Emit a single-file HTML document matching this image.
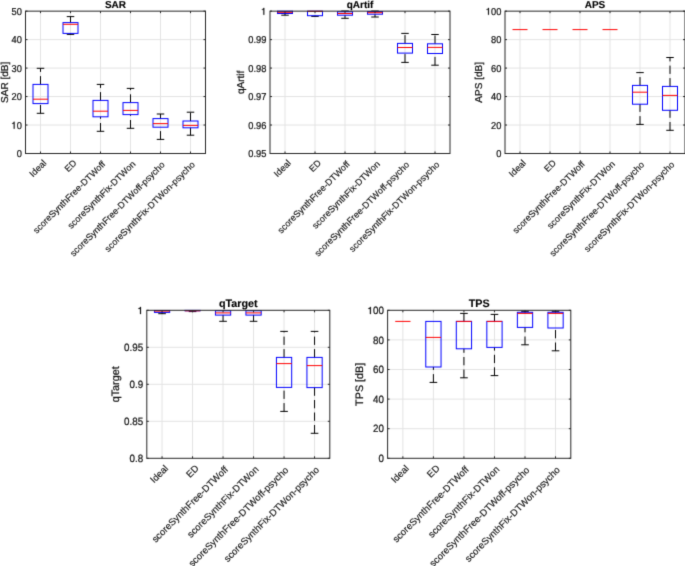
<!DOCTYPE html>
<html><head><meta charset="utf-8"><title>Boxplots</title>
<style>
html,body{margin:0;padding:0;background:#fff;}
body{width:685px;height:566px;overflow:hidden;}
svg{display:block;font-family:"Liberation Sans", sans-serif;will-change:transform;text-rendering:geometricPrecision;}
</style></head>
<body>
<svg width="685" height="566" viewBox="0 0 685 566">
<defs><filter id="b" x="0" y="0" width="100%" height="100%" filterUnits="userSpaceOnUse" color-interpolation-filters="sRGB"><feConvolveMatrix order="3" kernelMatrix="0.0144 0.0912 0.0144 0.0912 0.5776 0.0912 0.0144 0.0912 0.0144" divisor="1" edgeMode="duplicate" preserveAlpha="true"/></filter></defs>
<rect x="0" y="0" width="685" height="566" fill="#ffffff"/>
<g filter="url(#b)">
<rect x="0" y="0" width="685" height="566" fill="#ffffff"/>
<line x1="40.50" y1="11.15" x2="40.50" y2="153.50" stroke="#e3e3e3" stroke-width="1.0"/>
<line x1="70.50" y1="11.15" x2="70.50" y2="153.50" stroke="#e3e3e3" stroke-width="1.0"/>
<line x1="100.50" y1="11.15" x2="100.50" y2="153.50" stroke="#e3e3e3" stroke-width="1.0"/>
<line x1="130.50" y1="11.15" x2="130.50" y2="153.50" stroke="#e3e3e3" stroke-width="1.0"/>
<line x1="160.50" y1="11.15" x2="160.50" y2="153.50" stroke="#e3e3e3" stroke-width="1.0"/>
<line x1="190.50" y1="11.15" x2="190.50" y2="153.50" stroke="#e3e3e3" stroke-width="1.0"/>
<line x1="25.50" y1="125.03" x2="205.50" y2="125.03" stroke="#e3e3e3" stroke-width="1.0"/>
<line x1="25.50" y1="96.56" x2="205.50" y2="96.56" stroke="#e3e3e3" stroke-width="1.0"/>
<line x1="25.50" y1="68.09" x2="205.50" y2="68.09" stroke="#e3e3e3" stroke-width="1.0"/>
<line x1="25.50" y1="39.62" x2="205.50" y2="39.62" stroke="#e3e3e3" stroke-width="1.0"/>
<line x1="40.50" y1="84.40" x2="40.50" y2="68.30" stroke="#000000" stroke-width="1.0" stroke-dasharray="8.3,4.2"/>
<line x1="40.50" y1="113.30" x2="40.50" y2="103.60" stroke="#000000" stroke-width="1.0" stroke-dasharray="8.3,4.2"/>
<line x1="36.75" y1="68.30" x2="44.25" y2="68.30" stroke="#000000" stroke-width="1.0"/>
<line x1="36.75" y1="113.30" x2="44.25" y2="113.30" stroke="#000000" stroke-width="1.0"/>
<rect x="33.00" y="84.40" width="15.00" height="19.20" fill="none" stroke="#0000ff" stroke-width="1.0"/>
<line x1="33.00" y1="99.20" x2="48.00" y2="99.20" stroke="#ff0000" stroke-width="1.0"/>
<line x1="70.50" y1="22.60" x2="70.50" y2="16.60" stroke="#000000" stroke-width="1.0" stroke-dasharray="8.3,4.2"/>
<line x1="70.50" y1="34.40" x2="70.50" y2="33.40" stroke="#000000" stroke-width="1.0" stroke-dasharray="8.3,4.2"/>
<line x1="66.75" y1="16.60" x2="74.25" y2="16.60" stroke="#000000" stroke-width="1.0"/>
<line x1="66.75" y1="34.40" x2="74.25" y2="34.40" stroke="#000000" stroke-width="1.0"/>
<rect x="63.00" y="22.60" width="15.00" height="10.80" fill="none" stroke="#0000ff" stroke-width="1.0"/>
<line x1="63.00" y1="24.30" x2="78.00" y2="24.30" stroke="#ff0000" stroke-width="1.0"/>
<line x1="100.50" y1="100.40" x2="100.50" y2="84.40" stroke="#000000" stroke-width="1.0" stroke-dasharray="8.3,4.2"/>
<line x1="100.50" y1="131.30" x2="100.50" y2="116.80" stroke="#000000" stroke-width="1.0" stroke-dasharray="8.3,4.2"/>
<line x1="96.75" y1="84.40" x2="104.25" y2="84.40" stroke="#000000" stroke-width="1.0"/>
<line x1="96.75" y1="131.30" x2="104.25" y2="131.30" stroke="#000000" stroke-width="1.0"/>
<rect x="93.00" y="100.40" width="15.00" height="16.40" fill="none" stroke="#0000ff" stroke-width="1.0"/>
<line x1="93.00" y1="111.20" x2="108.00" y2="111.20" stroke="#ff0000" stroke-width="1.0"/>
<line x1="130.50" y1="102.60" x2="130.50" y2="88.40" stroke="#000000" stroke-width="1.0" stroke-dasharray="8.3,4.2"/>
<line x1="130.50" y1="128.30" x2="130.50" y2="114.60" stroke="#000000" stroke-width="1.0" stroke-dasharray="8.3,4.2"/>
<line x1="126.75" y1="88.40" x2="134.25" y2="88.40" stroke="#000000" stroke-width="1.0"/>
<line x1="126.75" y1="128.30" x2="134.25" y2="128.30" stroke="#000000" stroke-width="1.0"/>
<rect x="123.00" y="102.60" width="15.00" height="12.00" fill="none" stroke="#0000ff" stroke-width="1.0"/>
<line x1="123.00" y1="110.40" x2="138.00" y2="110.40" stroke="#ff0000" stroke-width="1.0"/>
<line x1="160.50" y1="118.60" x2="160.50" y2="114.00" stroke="#000000" stroke-width="1.0" stroke-dasharray="8.3,4.2"/>
<line x1="160.50" y1="139.40" x2="160.50" y2="127.20" stroke="#000000" stroke-width="1.0" stroke-dasharray="8.3,4.2"/>
<line x1="156.75" y1="114.00" x2="164.25" y2="114.00" stroke="#000000" stroke-width="1.0"/>
<line x1="156.75" y1="139.40" x2="164.25" y2="139.40" stroke="#000000" stroke-width="1.0"/>
<rect x="153.00" y="118.60" width="15.00" height="8.60" fill="none" stroke="#0000ff" stroke-width="1.0"/>
<line x1="153.00" y1="123.60" x2="168.00" y2="123.60" stroke="#ff0000" stroke-width="1.0"/>
<line x1="190.50" y1="121.00" x2="190.50" y2="112.20" stroke="#000000" stroke-width="1.0" stroke-dasharray="8.3,4.2"/>
<line x1="190.50" y1="135.20" x2="190.50" y2="127.80" stroke="#000000" stroke-width="1.0" stroke-dasharray="8.3,4.2"/>
<line x1="186.75" y1="112.20" x2="194.25" y2="112.20" stroke="#000000" stroke-width="1.0"/>
<line x1="186.75" y1="135.20" x2="194.25" y2="135.20" stroke="#000000" stroke-width="1.0"/>
<rect x="183.00" y="121.00" width="15.00" height="6.80" fill="none" stroke="#0000ff" stroke-width="1.0"/>
<line x1="183.00" y1="125.40" x2="198.00" y2="125.40" stroke="#ff0000" stroke-width="1.0"/>
<rect x="25.50" y="11.15" width="180.00" height="142.35" fill="none" stroke="#262626" stroke-width="1"/>
<line x1="40.50" y1="153.50" x2="40.50" y2="151.50" stroke="#262626" stroke-width="1"/>
<line x1="40.50" y1="11.15" x2="40.50" y2="13.15" stroke="#262626" stroke-width="1"/>
<line x1="70.50" y1="153.50" x2="70.50" y2="151.50" stroke="#262626" stroke-width="1"/>
<line x1="70.50" y1="11.15" x2="70.50" y2="13.15" stroke="#262626" stroke-width="1"/>
<line x1="100.50" y1="153.50" x2="100.50" y2="151.50" stroke="#262626" stroke-width="1"/>
<line x1="100.50" y1="11.15" x2="100.50" y2="13.15" stroke="#262626" stroke-width="1"/>
<line x1="130.50" y1="153.50" x2="130.50" y2="151.50" stroke="#262626" stroke-width="1"/>
<line x1="130.50" y1="11.15" x2="130.50" y2="13.15" stroke="#262626" stroke-width="1"/>
<line x1="160.50" y1="153.50" x2="160.50" y2="151.50" stroke="#262626" stroke-width="1"/>
<line x1="160.50" y1="11.15" x2="160.50" y2="13.15" stroke="#262626" stroke-width="1"/>
<line x1="190.50" y1="153.50" x2="190.50" y2="151.50" stroke="#262626" stroke-width="1"/>
<line x1="190.50" y1="11.15" x2="190.50" y2="13.15" stroke="#262626" stroke-width="1"/>
<line x1="25.50" y1="153.50" x2="27.50" y2="153.50" stroke="#262626" stroke-width="1"/>
<line x1="205.50" y1="153.50" x2="203.50" y2="153.50" stroke="#262626" stroke-width="1"/>
<text x="0" y="0" transform="translate(21.90 157.10) scale(1 1.08)" font-size="9.3" text-anchor="end" fill="#141414" stroke="#141414" stroke-width="0.22">0</text>
<line x1="25.50" y1="125.03" x2="27.50" y2="125.03" stroke="#262626" stroke-width="1"/>
<line x1="205.50" y1="125.03" x2="203.50" y2="125.03" stroke="#262626" stroke-width="1"/>
<text x="0" y="0" transform="translate(21.90 128.63) scale(1 1.08)" font-size="9.3" text-anchor="end" fill="#141414" stroke="#141414" stroke-width="0.22"> 0</text>
<path d="M0.33 0L0.23 0L0.23 0.49L0.07 0.49L0.07 0.555C0.18 0.565 0.215 0.595 0.235 0.68L0.33 0.68Z" transform="translate(11.56 128.63) scale(9.3 -10.044000000000002)" fill="#141414" stroke="#141414" stroke-width="0.0237"/>
<line x1="25.50" y1="96.56" x2="27.50" y2="96.56" stroke="#262626" stroke-width="1"/>
<line x1="205.50" y1="96.56" x2="203.50" y2="96.56" stroke="#262626" stroke-width="1"/>
<text x="0" y="0" transform="translate(21.90 100.16) scale(1 1.08)" font-size="9.3" text-anchor="end" fill="#141414" stroke="#141414" stroke-width="0.22">20</text>
<line x1="25.50" y1="68.09" x2="27.50" y2="68.09" stroke="#262626" stroke-width="1"/>
<line x1="205.50" y1="68.09" x2="203.50" y2="68.09" stroke="#262626" stroke-width="1"/>
<text x="0" y="0" transform="translate(21.90 71.69) scale(1 1.08)" font-size="9.3" text-anchor="end" fill="#141414" stroke="#141414" stroke-width="0.22">30</text>
<line x1="25.50" y1="39.62" x2="27.50" y2="39.62" stroke="#262626" stroke-width="1"/>
<line x1="205.50" y1="39.62" x2="203.50" y2="39.62" stroke="#262626" stroke-width="1"/>
<text x="0" y="0" transform="translate(21.90 43.22) scale(1 1.08)" font-size="9.3" text-anchor="end" fill="#141414" stroke="#141414" stroke-width="0.22">40</text>
<line x1="25.50" y1="11.15" x2="27.50" y2="11.15" stroke="#262626" stroke-width="1"/>
<line x1="205.50" y1="11.15" x2="203.50" y2="11.15" stroke="#262626" stroke-width="1"/>
<text x="0" y="0" transform="translate(21.90 14.75) scale(1 1.08)" font-size="9.3" text-anchor="end" fill="#141414" stroke="#141414" stroke-width="0.22">50</text>
<text x="33.08" y="177.60" font-size="9.114" text-anchor="start" fill="#141414" stroke="#141414" stroke-width="0.15" transform="rotate(-45 33.08 177.60)">Ideal</text>
<text x="68.21" y="172.48" font-size="9.114" text-anchor="start" fill="#141414" stroke="#141414" stroke-width="0.15" transform="rotate(-45 68.21 172.48)">ED</text>
<text x="36.69" y="234.00" font-size="9.114" text-anchor="start" fill="#141414" stroke="#141414" stroke-width="0.15" transform="rotate(-45 36.69 234.00)">scoreSynthFree-DTWoff</text>
<text x="71.32" y="229.36" font-size="9.114" text-anchor="start" fill="#141414" stroke="#141414" stroke-width="0.15" transform="rotate(-45 71.32 229.36)">scoreSynthFix-DTWon</text>
<text x="73.66" y="257.02" font-size="9.114" text-anchor="start" fill="#141414" stroke="#141414" stroke-width="0.15" transform="rotate(-45 73.66 257.02)">scoreSynthFree-DTWoff-psycho</text>
<text x="108.29" y="252.39" font-size="9.114" text-anchor="start" fill="#141414" stroke="#141414" stroke-width="0.15" transform="rotate(-45 108.29 252.39)">scoreSynthFix-DTWon-psycho</text>
<text x="115.50" y="8.35" font-size="10.0" text-anchor="middle" fill="#000000" stroke="#000000" stroke-width="0.12" font-weight="bold">SAR</text>
<text x="7.80" y="82.33" font-size="10.0" text-anchor="middle" fill="#141414" stroke="#141414" stroke-width="0.25" transform="rotate(-90 7.80 82.33)">SAR [dB]</text>
<line x1="285.00" y1="11.15" x2="285.00" y2="153.50" stroke="#e3e3e3" stroke-width="1.0"/>
<line x1="315.00" y1="11.15" x2="315.00" y2="153.50" stroke="#e3e3e3" stroke-width="1.0"/>
<line x1="345.00" y1="11.15" x2="345.00" y2="153.50" stroke="#e3e3e3" stroke-width="1.0"/>
<line x1="375.00" y1="11.15" x2="375.00" y2="153.50" stroke="#e3e3e3" stroke-width="1.0"/>
<line x1="405.00" y1="11.15" x2="405.00" y2="153.50" stroke="#e3e3e3" stroke-width="1.0"/>
<line x1="435.00" y1="11.15" x2="435.00" y2="153.50" stroke="#e3e3e3" stroke-width="1.0"/>
<line x1="270.00" y1="125.03" x2="450.00" y2="125.03" stroke="#e3e3e3" stroke-width="1.0"/>
<line x1="270.00" y1="96.56" x2="450.00" y2="96.56" stroke="#e3e3e3" stroke-width="1.0"/>
<line x1="270.00" y1="68.09" x2="450.00" y2="68.09" stroke="#e3e3e3" stroke-width="1.0"/>
<line x1="270.00" y1="39.62" x2="450.00" y2="39.62" stroke="#e3e3e3" stroke-width="1.0"/>
<line x1="285.00" y1="15.20" x2="285.00" y2="13.50" stroke="#000000" stroke-width="1.0" stroke-dasharray="8.3,4.2"/>
<line x1="281.25" y1="15.20" x2="288.75" y2="15.20" stroke="#000000" stroke-width="1.0"/>
<rect x="277.50" y="11.20" width="15.00" height="2.30" fill="none" stroke="#0000ff" stroke-width="1.0"/>
<line x1="277.50" y1="12.30" x2="292.50" y2="12.30" stroke="#ff0000" stroke-width="1.0"/>
<line x1="315.00" y1="16.40" x2="315.00" y2="15.70" stroke="#000000" stroke-width="1.0" stroke-dasharray="8.3,4.2"/>
<line x1="311.25" y1="16.40" x2="318.75" y2="16.40" stroke="#000000" stroke-width="1.0"/>
<rect x="307.50" y="11.20" width="15.00" height="4.50" fill="none" stroke="#0000ff" stroke-width="1.0"/>
<line x1="307.50" y1="11.30" x2="322.50" y2="11.30" stroke="#ff0000" stroke-width="1.0"/>
<line x1="345.00" y1="11.80" x2="345.00" y2="11.00" stroke="#000000" stroke-width="1.0" stroke-dasharray="8.3,4.2"/>
<line x1="345.00" y1="18.30" x2="345.00" y2="15.20" stroke="#000000" stroke-width="1.0" stroke-dasharray="8.3,4.2"/>
<line x1="341.25" y1="11.00" x2="348.75" y2="11.00" stroke="#000000" stroke-width="1.0"/>
<line x1="341.25" y1="18.30" x2="348.75" y2="18.30" stroke="#000000" stroke-width="1.0"/>
<rect x="337.50" y="11.80" width="15.00" height="3.40" fill="none" stroke="#0000ff" stroke-width="1.0"/>
<line x1="337.50" y1="13.50" x2="352.50" y2="13.50" stroke="#ff0000" stroke-width="1.0"/>
<line x1="375.00" y1="11.60" x2="375.00" y2="11.00" stroke="#000000" stroke-width="1.0" stroke-dasharray="8.3,4.2"/>
<line x1="375.00" y1="17.00" x2="375.00" y2="14.20" stroke="#000000" stroke-width="1.0" stroke-dasharray="8.3,4.2"/>
<line x1="371.25" y1="11.00" x2="378.75" y2="11.00" stroke="#000000" stroke-width="1.0"/>
<line x1="371.25" y1="17.00" x2="378.75" y2="17.00" stroke="#000000" stroke-width="1.0"/>
<rect x="367.50" y="11.60" width="15.00" height="2.60" fill="none" stroke="#0000ff" stroke-width="1.0"/>
<line x1="367.50" y1="12.70" x2="382.50" y2="12.70" stroke="#ff0000" stroke-width="1.0"/>
<line x1="405.00" y1="43.40" x2="405.00" y2="33.40" stroke="#000000" stroke-width="1.0" stroke-dasharray="8.3,4.2"/>
<line x1="405.00" y1="62.40" x2="405.00" y2="53.10" stroke="#000000" stroke-width="1.0" stroke-dasharray="8.3,4.2"/>
<line x1="401.25" y1="33.40" x2="408.75" y2="33.40" stroke="#000000" stroke-width="1.0"/>
<line x1="401.25" y1="62.40" x2="408.75" y2="62.40" stroke="#000000" stroke-width="1.0"/>
<rect x="397.50" y="43.40" width="15.00" height="9.70" fill="none" stroke="#0000ff" stroke-width="1.0"/>
<line x1="397.50" y1="47.50" x2="412.50" y2="47.50" stroke="#ff0000" stroke-width="1.0"/>
<line x1="435.00" y1="43.80" x2="435.00" y2="34.50" stroke="#000000" stroke-width="1.0" stroke-dasharray="8.3,4.2"/>
<line x1="435.00" y1="65.20" x2="435.00" y2="53.50" stroke="#000000" stroke-width="1.0" stroke-dasharray="8.3,4.2"/>
<line x1="431.25" y1="34.50" x2="438.75" y2="34.50" stroke="#000000" stroke-width="1.0"/>
<line x1="431.25" y1="65.20" x2="438.75" y2="65.20" stroke="#000000" stroke-width="1.0"/>
<rect x="427.50" y="43.80" width="15.00" height="9.70" fill="none" stroke="#0000ff" stroke-width="1.0"/>
<line x1="427.50" y1="47.40" x2="442.50" y2="47.40" stroke="#ff0000" stroke-width="1.0"/>
<rect x="270.00" y="11.15" width="180.00" height="142.35" fill="none" stroke="#262626" stroke-width="1"/>
<line x1="285.00" y1="153.50" x2="285.00" y2="151.50" stroke="#262626" stroke-width="1"/>
<line x1="285.00" y1="11.15" x2="285.00" y2="13.15" stroke="#262626" stroke-width="1"/>
<line x1="315.00" y1="153.50" x2="315.00" y2="151.50" stroke="#262626" stroke-width="1"/>
<line x1="315.00" y1="11.15" x2="315.00" y2="13.15" stroke="#262626" stroke-width="1"/>
<line x1="345.00" y1="153.50" x2="345.00" y2="151.50" stroke="#262626" stroke-width="1"/>
<line x1="345.00" y1="11.15" x2="345.00" y2="13.15" stroke="#262626" stroke-width="1"/>
<line x1="375.00" y1="153.50" x2="375.00" y2="151.50" stroke="#262626" stroke-width="1"/>
<line x1="375.00" y1="11.15" x2="375.00" y2="13.15" stroke="#262626" stroke-width="1"/>
<line x1="405.00" y1="153.50" x2="405.00" y2="151.50" stroke="#262626" stroke-width="1"/>
<line x1="405.00" y1="11.15" x2="405.00" y2="13.15" stroke="#262626" stroke-width="1"/>
<line x1="435.00" y1="153.50" x2="435.00" y2="151.50" stroke="#262626" stroke-width="1"/>
<line x1="435.00" y1="11.15" x2="435.00" y2="13.15" stroke="#262626" stroke-width="1"/>
<line x1="270.00" y1="153.50" x2="272.00" y2="153.50" stroke="#262626" stroke-width="1"/>
<line x1="450.00" y1="153.50" x2="448.00" y2="153.50" stroke="#262626" stroke-width="1"/>
<text x="0" y="0" transform="translate(266.40 157.10) scale(1 1.08)" font-size="9.3" text-anchor="end" fill="#141414" stroke="#141414" stroke-width="0.22">0.95</text>
<line x1="270.00" y1="125.03" x2="272.00" y2="125.03" stroke="#262626" stroke-width="1"/>
<line x1="450.00" y1="125.03" x2="448.00" y2="125.03" stroke="#262626" stroke-width="1"/>
<text x="0" y="0" transform="translate(266.40 128.63) scale(1 1.08)" font-size="9.3" text-anchor="end" fill="#141414" stroke="#141414" stroke-width="0.22">0.96</text>
<line x1="270.00" y1="96.56" x2="272.00" y2="96.56" stroke="#262626" stroke-width="1"/>
<line x1="450.00" y1="96.56" x2="448.00" y2="96.56" stroke="#262626" stroke-width="1"/>
<text x="0" y="0" transform="translate(266.40 100.16) scale(1 1.08)" font-size="9.3" text-anchor="end" fill="#141414" stroke="#141414" stroke-width="0.22">0.97</text>
<line x1="270.00" y1="68.09" x2="272.00" y2="68.09" stroke="#262626" stroke-width="1"/>
<line x1="450.00" y1="68.09" x2="448.00" y2="68.09" stroke="#262626" stroke-width="1"/>
<text x="0" y="0" transform="translate(266.40 71.69) scale(1 1.08)" font-size="9.3" text-anchor="end" fill="#141414" stroke="#141414" stroke-width="0.22">0.98</text>
<line x1="270.00" y1="39.62" x2="272.00" y2="39.62" stroke="#262626" stroke-width="1"/>
<line x1="450.00" y1="39.62" x2="448.00" y2="39.62" stroke="#262626" stroke-width="1"/>
<text x="0" y="0" transform="translate(266.40 43.22) scale(1 1.08)" font-size="9.3" text-anchor="end" fill="#141414" stroke="#141414" stroke-width="0.22">0.99</text>
<line x1="270.00" y1="11.15" x2="272.00" y2="11.15" stroke="#262626" stroke-width="1"/>
<line x1="450.00" y1="11.15" x2="448.00" y2="11.15" stroke="#262626" stroke-width="1"/>
<text x="0" y="0" transform="translate(266.40 14.75) scale(1 1.08)" font-size="9.3" text-anchor="end" fill="#141414" stroke="#141414" stroke-width="0.22"> </text>
<path d="M0.33 0L0.23 0L0.23 0.49L0.07 0.49L0.07 0.555C0.18 0.565 0.215 0.595 0.235 0.68L0.33 0.68Z" transform="translate(261.23 14.75) scale(9.3 -10.044000000000002)" fill="#141414" stroke="#141414" stroke-width="0.0237"/>
<text x="277.58" y="177.60" font-size="9.114" text-anchor="start" fill="#141414" stroke="#141414" stroke-width="0.15" transform="rotate(-45 277.58 177.60)">Ideal</text>
<text x="312.71" y="172.48" font-size="9.114" text-anchor="start" fill="#141414" stroke="#141414" stroke-width="0.15" transform="rotate(-45 312.71 172.48)">ED</text>
<text x="281.19" y="234.00" font-size="9.114" text-anchor="start" fill="#141414" stroke="#141414" stroke-width="0.15" transform="rotate(-45 281.19 234.00)">scoreSynthFree-DTWoff</text>
<text x="315.82" y="229.36" font-size="9.114" text-anchor="start" fill="#141414" stroke="#141414" stroke-width="0.15" transform="rotate(-45 315.82 229.36)">scoreSynthFix-DTWon</text>
<text x="318.16" y="257.02" font-size="9.114" text-anchor="start" fill="#141414" stroke="#141414" stroke-width="0.15" transform="rotate(-45 318.16 257.02)">scoreSynthFree-DTWoff-psycho</text>
<text x="352.79" y="252.39" font-size="9.114" text-anchor="start" fill="#141414" stroke="#141414" stroke-width="0.15" transform="rotate(-45 352.79 252.39)">scoreSynthFix-DTWon-psycho</text>
<text x="360.00" y="8.35" font-size="10.0" text-anchor="middle" fill="#000000" stroke="#000000" stroke-width="0.12" font-weight="bold">qArtif</text>
<text x="243.90" y="82.33" font-size="10.0" text-anchor="middle" fill="#141414" stroke="#141414" stroke-width="0.25" transform="rotate(-90 243.90 82.33)">qArtif</text>
<line x1="520.00" y1="11.15" x2="520.00" y2="153.50" stroke="#e3e3e3" stroke-width="1.0"/>
<line x1="550.00" y1="11.15" x2="550.00" y2="153.50" stroke="#e3e3e3" stroke-width="1.0"/>
<line x1="580.00" y1="11.15" x2="580.00" y2="153.50" stroke="#e3e3e3" stroke-width="1.0"/>
<line x1="610.00" y1="11.15" x2="610.00" y2="153.50" stroke="#e3e3e3" stroke-width="1.0"/>
<line x1="640.00" y1="11.15" x2="640.00" y2="153.50" stroke="#e3e3e3" stroke-width="1.0"/>
<line x1="670.00" y1="11.15" x2="670.00" y2="153.50" stroke="#e3e3e3" stroke-width="1.0"/>
<line x1="505.00" y1="125.03" x2="685.00" y2="125.03" stroke="#e3e3e3" stroke-width="1.0"/>
<line x1="505.00" y1="96.56" x2="685.00" y2="96.56" stroke="#e3e3e3" stroke-width="1.0"/>
<line x1="505.00" y1="68.09" x2="685.00" y2="68.09" stroke="#e3e3e3" stroke-width="1.0"/>
<line x1="505.00" y1="39.62" x2="685.00" y2="39.62" stroke="#e3e3e3" stroke-width="1.0"/>
<line x1="512.50" y1="29.60" x2="527.50" y2="29.60" stroke="#ff0000" stroke-width="1.0"/>
<line x1="542.50" y1="29.60" x2="557.50" y2="29.60" stroke="#ff0000" stroke-width="1.0"/>
<line x1="572.50" y1="29.60" x2="587.50" y2="29.60" stroke="#ff0000" stroke-width="1.0"/>
<line x1="602.50" y1="29.60" x2="617.50" y2="29.60" stroke="#ff0000" stroke-width="1.0"/>
<line x1="640.00" y1="85.40" x2="640.00" y2="72.60" stroke="#000000" stroke-width="1.0" stroke-dasharray="8.3,4.2"/>
<line x1="640.00" y1="124.40" x2="640.00" y2="104.20" stroke="#000000" stroke-width="1.0" stroke-dasharray="8.3,4.2"/>
<line x1="636.25" y1="72.60" x2="643.75" y2="72.60" stroke="#000000" stroke-width="1.0"/>
<line x1="636.25" y1="124.40" x2="643.75" y2="124.40" stroke="#000000" stroke-width="1.0"/>
<rect x="632.50" y="85.40" width="15.00" height="18.80" fill="none" stroke="#0000ff" stroke-width="1.0"/>
<line x1="632.50" y1="92.20" x2="647.50" y2="92.20" stroke="#ff0000" stroke-width="1.0"/>
<line x1="670.00" y1="86.40" x2="670.00" y2="57.50" stroke="#000000" stroke-width="1.0" stroke-dasharray="8.3,4.2"/>
<line x1="670.00" y1="130.30" x2="670.00" y2="110.30" stroke="#000000" stroke-width="1.0" stroke-dasharray="8.3,4.2"/>
<line x1="666.25" y1="57.50" x2="673.75" y2="57.50" stroke="#000000" stroke-width="1.0"/>
<line x1="666.25" y1="130.30" x2="673.75" y2="130.30" stroke="#000000" stroke-width="1.0"/>
<rect x="662.50" y="86.40" width="15.00" height="23.90" fill="none" stroke="#0000ff" stroke-width="1.0"/>
<line x1="662.50" y1="95.40" x2="677.50" y2="95.40" stroke="#ff0000" stroke-width="1.0"/>
<rect x="505.00" y="11.15" width="180.00" height="142.35" fill="none" stroke="#262626" stroke-width="1"/>
<line x1="520.00" y1="153.50" x2="520.00" y2="151.50" stroke="#262626" stroke-width="1"/>
<line x1="520.00" y1="11.15" x2="520.00" y2="13.15" stroke="#262626" stroke-width="1"/>
<line x1="550.00" y1="153.50" x2="550.00" y2="151.50" stroke="#262626" stroke-width="1"/>
<line x1="550.00" y1="11.15" x2="550.00" y2="13.15" stroke="#262626" stroke-width="1"/>
<line x1="580.00" y1="153.50" x2="580.00" y2="151.50" stroke="#262626" stroke-width="1"/>
<line x1="580.00" y1="11.15" x2="580.00" y2="13.15" stroke="#262626" stroke-width="1"/>
<line x1="610.00" y1="153.50" x2="610.00" y2="151.50" stroke="#262626" stroke-width="1"/>
<line x1="610.00" y1="11.15" x2="610.00" y2="13.15" stroke="#262626" stroke-width="1"/>
<line x1="640.00" y1="153.50" x2="640.00" y2="151.50" stroke="#262626" stroke-width="1"/>
<line x1="640.00" y1="11.15" x2="640.00" y2="13.15" stroke="#262626" stroke-width="1"/>
<line x1="670.00" y1="153.50" x2="670.00" y2="151.50" stroke="#262626" stroke-width="1"/>
<line x1="670.00" y1="11.15" x2="670.00" y2="13.15" stroke="#262626" stroke-width="1"/>
<line x1="505.00" y1="153.50" x2="507.00" y2="153.50" stroke="#262626" stroke-width="1"/>
<line x1="685.00" y1="153.50" x2="683.00" y2="153.50" stroke="#262626" stroke-width="1"/>
<text x="0" y="0" transform="translate(501.40 157.10) scale(1 1.08)" font-size="9.3" text-anchor="end" fill="#141414" stroke="#141414" stroke-width="0.22">0</text>
<line x1="505.00" y1="125.03" x2="507.00" y2="125.03" stroke="#262626" stroke-width="1"/>
<line x1="685.00" y1="125.03" x2="683.00" y2="125.03" stroke="#262626" stroke-width="1"/>
<text x="0" y="0" transform="translate(501.40 128.63) scale(1 1.08)" font-size="9.3" text-anchor="end" fill="#141414" stroke="#141414" stroke-width="0.22">20</text>
<line x1="505.00" y1="96.56" x2="507.00" y2="96.56" stroke="#262626" stroke-width="1"/>
<line x1="685.00" y1="96.56" x2="683.00" y2="96.56" stroke="#262626" stroke-width="1"/>
<text x="0" y="0" transform="translate(501.40 100.16) scale(1 1.08)" font-size="9.3" text-anchor="end" fill="#141414" stroke="#141414" stroke-width="0.22">40</text>
<line x1="505.00" y1="68.09" x2="507.00" y2="68.09" stroke="#262626" stroke-width="1"/>
<line x1="685.00" y1="68.09" x2="683.00" y2="68.09" stroke="#262626" stroke-width="1"/>
<text x="0" y="0" transform="translate(501.40 71.69) scale(1 1.08)" font-size="9.3" text-anchor="end" fill="#141414" stroke="#141414" stroke-width="0.22">60</text>
<line x1="505.00" y1="39.62" x2="507.00" y2="39.62" stroke="#262626" stroke-width="1"/>
<line x1="685.00" y1="39.62" x2="683.00" y2="39.62" stroke="#262626" stroke-width="1"/>
<text x="0" y="0" transform="translate(501.40 43.22) scale(1 1.08)" font-size="9.3" text-anchor="end" fill="#141414" stroke="#141414" stroke-width="0.22">80</text>
<line x1="505.00" y1="11.15" x2="507.00" y2="11.15" stroke="#262626" stroke-width="1"/>
<line x1="685.00" y1="11.15" x2="683.00" y2="11.15" stroke="#262626" stroke-width="1"/>
<text x="0" y="0" transform="translate(501.40 14.75) scale(1 1.08)" font-size="9.3" text-anchor="end" fill="#141414" stroke="#141414" stroke-width="0.22"> 00</text>
<path d="M0.33 0L0.23 0L0.23 0.49L0.07 0.49L0.07 0.555C0.18 0.565 0.215 0.595 0.235 0.68L0.33 0.68Z" transform="translate(485.89 14.75) scale(9.3 -10.044000000000002)" fill="#141414" stroke="#141414" stroke-width="0.0237"/>
<text x="512.58" y="177.60" font-size="9.114" text-anchor="start" fill="#141414" stroke="#141414" stroke-width="0.15" transform="rotate(-45 512.58 177.60)">Ideal</text>
<text x="547.71" y="172.48" font-size="9.114" text-anchor="start" fill="#141414" stroke="#141414" stroke-width="0.15" transform="rotate(-45 547.71 172.48)">ED</text>
<text x="516.19" y="234.00" font-size="9.114" text-anchor="start" fill="#141414" stroke="#141414" stroke-width="0.15" transform="rotate(-45 516.19 234.00)">scoreSynthFree-DTWoff</text>
<text x="550.82" y="229.36" font-size="9.114" text-anchor="start" fill="#141414" stroke="#141414" stroke-width="0.15" transform="rotate(-45 550.82 229.36)">scoreSynthFix-DTWon</text>
<text x="553.16" y="257.02" font-size="9.114" text-anchor="start" fill="#141414" stroke="#141414" stroke-width="0.15" transform="rotate(-45 553.16 257.02)">scoreSynthFree-DTWoff-psycho</text>
<text x="587.79" y="252.39" font-size="9.114" text-anchor="start" fill="#141414" stroke="#141414" stroke-width="0.15" transform="rotate(-45 587.79 252.39)">scoreSynthFix-DTWon-psycho</text>
<text x="595.00" y="8.35" font-size="10.0" text-anchor="middle" fill="#000000" stroke="#000000" stroke-width="0.12" font-weight="bold">APS</text>
<text x="481.60" y="82.33" font-size="10.0" text-anchor="middle" fill="#141414" stroke="#141414" stroke-width="0.25" transform="rotate(-90 481.60 82.33)">APS [dB]</text>
<line x1="162.05" y1="310.30" x2="162.05" y2="458.30" stroke="#e3e3e3" stroke-width="1.0"/>
<line x1="192.55" y1="310.30" x2="192.55" y2="458.30" stroke="#e3e3e3" stroke-width="1.0"/>
<line x1="223.05" y1="310.30" x2="223.05" y2="458.30" stroke="#e3e3e3" stroke-width="1.0"/>
<line x1="253.55" y1="310.30" x2="253.55" y2="458.30" stroke="#e3e3e3" stroke-width="1.0"/>
<line x1="284.05" y1="310.30" x2="284.05" y2="458.30" stroke="#e3e3e3" stroke-width="1.0"/>
<line x1="314.55" y1="310.30" x2="314.55" y2="458.30" stroke="#e3e3e3" stroke-width="1.0"/>
<line x1="146.80" y1="421.30" x2="329.80" y2="421.30" stroke="#e3e3e3" stroke-width="1.0"/>
<line x1="146.80" y1="384.30" x2="329.80" y2="384.30" stroke="#e3e3e3" stroke-width="1.0"/>
<line x1="146.80" y1="347.30" x2="329.80" y2="347.30" stroke="#e3e3e3" stroke-width="1.0"/>
<line x1="162.05" y1="313.70" x2="162.05" y2="312.40" stroke="#000000" stroke-width="1.0" stroke-dasharray="8.3,4.2"/>
<line x1="158.24" y1="313.70" x2="165.86" y2="313.70" stroke="#000000" stroke-width="1.0"/>
<rect x="154.43" y="310.50" width="15.25" height="1.90" fill="none" stroke="#0000ff" stroke-width="1.0"/>
<line x1="154.43" y1="311.10" x2="169.68" y2="311.10" stroke="#ff0000" stroke-width="1.0"/>
<line x1="192.55" y1="311.60" x2="192.55" y2="310.80" stroke="#000000" stroke-width="1.0" stroke-dasharray="8.3,4.2"/>
<line x1="188.74" y1="311.60" x2="196.36" y2="311.60" stroke="#000000" stroke-width="1.0"/>
<rect x="184.93" y="310.40" width="15.25" height="0.40" fill="none" stroke="#0000ff" stroke-width="1.0"/>
<line x1="184.93" y1="310.80" x2="200.18" y2="310.80" stroke="#ff0000" stroke-width="1.0"/>
<line x1="223.05" y1="321.30" x2="223.05" y2="315.10" stroke="#000000" stroke-width="1.0" stroke-dasharray="8.3,4.2"/>
<line x1="219.24" y1="321.30" x2="226.86" y2="321.30" stroke="#000000" stroke-width="1.0"/>
<rect x="215.43" y="310.80" width="15.25" height="4.30" fill="none" stroke="#0000ff" stroke-width="1.0"/>
<line x1="215.43" y1="312.90" x2="230.68" y2="312.90" stroke="#ff0000" stroke-width="1.0"/>
<line x1="253.55" y1="321.30" x2="253.55" y2="315.10" stroke="#000000" stroke-width="1.0" stroke-dasharray="8.3,4.2"/>
<line x1="249.74" y1="321.30" x2="257.36" y2="321.30" stroke="#000000" stroke-width="1.0"/>
<rect x="245.93" y="310.80" width="15.25" height="4.30" fill="none" stroke="#0000ff" stroke-width="1.0"/>
<line x1="245.93" y1="312.90" x2="261.18" y2="312.90" stroke="#ff0000" stroke-width="1.0"/>
<line x1="284.05" y1="357.40" x2="284.05" y2="331.40" stroke="#000000" stroke-width="1.0" stroke-dasharray="8.3,4.2"/>
<line x1="284.05" y1="411.40" x2="284.05" y2="387.40" stroke="#000000" stroke-width="1.0" stroke-dasharray="8.3,4.2"/>
<line x1="280.24" y1="331.40" x2="287.86" y2="331.40" stroke="#000000" stroke-width="1.0"/>
<line x1="280.24" y1="411.40" x2="287.86" y2="411.40" stroke="#000000" stroke-width="1.0"/>
<rect x="276.43" y="357.40" width="15.25" height="30.00" fill="none" stroke="#0000ff" stroke-width="1.0"/>
<line x1="276.43" y1="363.60" x2="291.68" y2="363.60" stroke="#ff0000" stroke-width="1.0"/>
<line x1="314.55" y1="357.40" x2="314.55" y2="331.40" stroke="#000000" stroke-width="1.0" stroke-dasharray="8.3,4.2"/>
<line x1="314.55" y1="433.30" x2="314.55" y2="387.60" stroke="#000000" stroke-width="1.0" stroke-dasharray="8.3,4.2"/>
<line x1="310.74" y1="331.40" x2="318.36" y2="331.40" stroke="#000000" stroke-width="1.0"/>
<line x1="310.74" y1="433.30" x2="318.36" y2="433.30" stroke="#000000" stroke-width="1.0"/>
<rect x="306.93" y="357.40" width="15.25" height="30.20" fill="none" stroke="#0000ff" stroke-width="1.0"/>
<line x1="306.93" y1="365.60" x2="322.18" y2="365.60" stroke="#ff0000" stroke-width="1.0"/>
<rect x="146.80" y="310.30" width="183.00" height="148.00" fill="none" stroke="#262626" stroke-width="1"/>
<line x1="162.05" y1="458.30" x2="162.05" y2="456.30" stroke="#262626" stroke-width="1"/>
<line x1="162.05" y1="310.30" x2="162.05" y2="312.30" stroke="#262626" stroke-width="1"/>
<line x1="192.55" y1="458.30" x2="192.55" y2="456.30" stroke="#262626" stroke-width="1"/>
<line x1="192.55" y1="310.30" x2="192.55" y2="312.30" stroke="#262626" stroke-width="1"/>
<line x1="223.05" y1="458.30" x2="223.05" y2="456.30" stroke="#262626" stroke-width="1"/>
<line x1="223.05" y1="310.30" x2="223.05" y2="312.30" stroke="#262626" stroke-width="1"/>
<line x1="253.55" y1="458.30" x2="253.55" y2="456.30" stroke="#262626" stroke-width="1"/>
<line x1="253.55" y1="310.30" x2="253.55" y2="312.30" stroke="#262626" stroke-width="1"/>
<line x1="284.05" y1="458.30" x2="284.05" y2="456.30" stroke="#262626" stroke-width="1"/>
<line x1="284.05" y1="310.30" x2="284.05" y2="312.30" stroke="#262626" stroke-width="1"/>
<line x1="314.55" y1="458.30" x2="314.55" y2="456.30" stroke="#262626" stroke-width="1"/>
<line x1="314.55" y1="310.30" x2="314.55" y2="312.30" stroke="#262626" stroke-width="1"/>
<line x1="146.80" y1="458.30" x2="148.80" y2="458.30" stroke="#262626" stroke-width="1"/>
<line x1="329.80" y1="458.30" x2="327.80" y2="458.30" stroke="#262626" stroke-width="1"/>
<text x="0" y="0" transform="translate(143.20 462.09) scale(1 1.08)" font-size="9.8" text-anchor="end" fill="#141414" stroke="#141414" stroke-width="0.22">0.8</text>
<line x1="146.80" y1="421.30" x2="148.80" y2="421.30" stroke="#262626" stroke-width="1"/>
<line x1="329.80" y1="421.30" x2="327.80" y2="421.30" stroke="#262626" stroke-width="1"/>
<text x="0" y="0" transform="translate(143.20 425.09) scale(1 1.08)" font-size="9.8" text-anchor="end" fill="#141414" stroke="#141414" stroke-width="0.22">0.85</text>
<line x1="146.80" y1="384.30" x2="148.80" y2="384.30" stroke="#262626" stroke-width="1"/>
<line x1="329.80" y1="384.30" x2="327.80" y2="384.30" stroke="#262626" stroke-width="1"/>
<text x="0" y="0" transform="translate(143.20 388.09) scale(1 1.08)" font-size="9.8" text-anchor="end" fill="#141414" stroke="#141414" stroke-width="0.22">0.9</text>
<line x1="146.80" y1="347.30" x2="148.80" y2="347.30" stroke="#262626" stroke-width="1"/>
<line x1="329.80" y1="347.30" x2="327.80" y2="347.30" stroke="#262626" stroke-width="1"/>
<text x="0" y="0" transform="translate(143.20 351.09) scale(1 1.08)" font-size="9.8" text-anchor="end" fill="#141414" stroke="#141414" stroke-width="0.22">0.95</text>
<line x1="146.80" y1="310.30" x2="148.80" y2="310.30" stroke="#262626" stroke-width="1"/>
<line x1="329.80" y1="310.30" x2="327.80" y2="310.30" stroke="#262626" stroke-width="1"/>
<text x="0" y="0" transform="translate(143.20 314.09) scale(1 1.08)" font-size="9.8" text-anchor="end" fill="#141414" stroke="#141414" stroke-width="0.22"> </text>
<path d="M0.33 0L0.23 0L0.23 0.49L0.07 0.49L0.07 0.555C0.18 0.565 0.215 0.595 0.235 0.68L0.33 0.68Z" transform="translate(137.75 314.09) scale(9.8 -10.584000000000001)" fill="#141414" stroke="#141414" stroke-width="0.0224"/>
<text x="154.11" y="483.62" font-size="9.604000000000001" text-anchor="start" fill="#141414" stroke="#141414" stroke-width="0.15" transform="rotate(-45 154.11 483.62)">Ideal</text>
<text x="190.01" y="478.22" font-size="9.604000000000001" text-anchor="start" fill="#141414" stroke="#141414" stroke-width="0.15" transform="rotate(-45 190.01 478.22)">ED</text>
<text x="155.69" y="543.05" font-size="9.604000000000001" text-anchor="start" fill="#141414" stroke="#141414" stroke-width="0.15" transform="rotate(-45 155.69 543.05)">scoreSynthFree-DTWoff</text>
<text x="191.07" y="538.16" font-size="9.604000000000001" text-anchor="start" fill="#141414" stroke="#141414" stroke-width="0.15" transform="rotate(-45 191.07 538.16)">scoreSynthFix-DTWon</text>
<text x="192.42" y="567.31" font-size="9.604000000000001" text-anchor="start" fill="#141414" stroke="#141414" stroke-width="0.15" transform="rotate(-45 192.42 567.31)">scoreSynthFree-DTWoff-psycho</text>
<text x="227.81" y="562.43" font-size="9.604000000000001" text-anchor="start" fill="#141414" stroke="#141414" stroke-width="0.15" transform="rotate(-45 227.81 562.43)">scoreSynthFix-DTWon-psycho</text>
<text x="238.30" y="306.70" font-size="10.8" text-anchor="middle" fill="#000000" stroke="#000000" stroke-width="0.12" font-weight="bold">qTarget</text>
<text x="119.50" y="384.30" font-size="10.8" text-anchor="middle" fill="#141414" stroke="#141414" stroke-width="0.25" transform="rotate(-90 119.50 384.30)">qTarget</text>
<line x1="402.87" y1="310.30" x2="402.87" y2="458.30" stroke="#e3e3e3" stroke-width="1.0"/>
<line x1="433.40" y1="310.30" x2="433.40" y2="458.30" stroke="#e3e3e3" stroke-width="1.0"/>
<line x1="463.93" y1="310.30" x2="463.93" y2="458.30" stroke="#e3e3e3" stroke-width="1.0"/>
<line x1="494.47" y1="310.30" x2="494.47" y2="458.30" stroke="#e3e3e3" stroke-width="1.0"/>
<line x1="525.00" y1="310.30" x2="525.00" y2="458.30" stroke="#e3e3e3" stroke-width="1.0"/>
<line x1="555.53" y1="310.30" x2="555.53" y2="458.30" stroke="#e3e3e3" stroke-width="1.0"/>
<line x1="387.60" y1="428.70" x2="570.80" y2="428.70" stroke="#e3e3e3" stroke-width="1.0"/>
<line x1="387.60" y1="399.10" x2="570.80" y2="399.10" stroke="#e3e3e3" stroke-width="1.0"/>
<line x1="387.60" y1="369.50" x2="570.80" y2="369.50" stroke="#e3e3e3" stroke-width="1.0"/>
<line x1="387.60" y1="339.90" x2="570.80" y2="339.90" stroke="#e3e3e3" stroke-width="1.0"/>
<line x1="395.23" y1="321.40" x2="410.50" y2="321.40" stroke="#ff0000" stroke-width="1.0"/>
<line x1="433.40" y1="382.40" x2="433.40" y2="367.00" stroke="#000000" stroke-width="1.0" stroke-dasharray="8.3,4.2"/>
<line x1="429.58" y1="382.40" x2="437.22" y2="382.40" stroke="#000000" stroke-width="1.0"/>
<rect x="425.77" y="321.40" width="15.27" height="45.60" fill="none" stroke="#0000ff" stroke-width="1.0"/>
<line x1="425.77" y1="337.40" x2="441.03" y2="337.40" stroke="#ff0000" stroke-width="1.0"/>
<line x1="463.93" y1="321.40" x2="463.93" y2="313.40" stroke="#000000" stroke-width="1.0" stroke-dasharray="8.3,4.2"/>
<line x1="463.93" y1="377.80" x2="463.93" y2="348.80" stroke="#000000" stroke-width="1.0" stroke-dasharray="8.3,4.2"/>
<line x1="460.12" y1="313.40" x2="467.75" y2="313.40" stroke="#000000" stroke-width="1.0"/>
<line x1="460.12" y1="377.80" x2="467.75" y2="377.80" stroke="#000000" stroke-width="1.0"/>
<rect x="456.30" y="321.40" width="15.27" height="27.40" fill="none" stroke="#0000ff" stroke-width="1.0"/>
<line x1="456.30" y1="321.40" x2="471.57" y2="321.40" stroke="#ff0000" stroke-width="1.0"/>
<line x1="494.47" y1="321.40" x2="494.47" y2="314.40" stroke="#000000" stroke-width="1.0" stroke-dasharray="8.3,4.2"/>
<line x1="494.47" y1="375.60" x2="494.47" y2="347.40" stroke="#000000" stroke-width="1.0" stroke-dasharray="8.3,4.2"/>
<line x1="490.65" y1="314.40" x2="498.28" y2="314.40" stroke="#000000" stroke-width="1.0"/>
<line x1="490.65" y1="375.60" x2="498.28" y2="375.60" stroke="#000000" stroke-width="1.0"/>
<rect x="486.83" y="321.40" width="15.27" height="26.00" fill="none" stroke="#0000ff" stroke-width="1.0"/>
<line x1="486.83" y1="321.40" x2="502.10" y2="321.40" stroke="#ff0000" stroke-width="1.0"/>
<line x1="525.00" y1="312.30" x2="525.00" y2="311.30" stroke="#000000" stroke-width="1.0" stroke-dasharray="8.3,4.2"/>
<line x1="525.00" y1="344.80" x2="525.00" y2="327.40" stroke="#000000" stroke-width="1.0" stroke-dasharray="8.3,4.2"/>
<line x1="521.18" y1="311.30" x2="528.82" y2="311.30" stroke="#000000" stroke-width="1.0"/>
<line x1="521.18" y1="344.80" x2="528.82" y2="344.80" stroke="#000000" stroke-width="1.0"/>
<rect x="517.37" y="312.30" width="15.27" height="15.10" fill="none" stroke="#0000ff" stroke-width="1.0"/>
<line x1="517.37" y1="313.40" x2="532.63" y2="313.40" stroke="#ff0000" stroke-width="1.0"/>
<line x1="555.53" y1="312.30" x2="555.53" y2="311.30" stroke="#000000" stroke-width="1.0" stroke-dasharray="8.3,4.2"/>
<line x1="555.53" y1="350.80" x2="555.53" y2="328.00" stroke="#000000" stroke-width="1.0" stroke-dasharray="8.3,4.2"/>
<line x1="551.72" y1="311.30" x2="559.35" y2="311.30" stroke="#000000" stroke-width="1.0"/>
<line x1="551.72" y1="350.80" x2="559.35" y2="350.80" stroke="#000000" stroke-width="1.0"/>
<rect x="547.90" y="312.30" width="15.27" height="15.70" fill="none" stroke="#0000ff" stroke-width="1.0"/>
<line x1="547.90" y1="313.40" x2="563.17" y2="313.40" stroke="#ff0000" stroke-width="1.0"/>
<rect x="387.60" y="310.30" width="183.20" height="148.00" fill="none" stroke="#262626" stroke-width="1"/>
<line x1="402.87" y1="458.30" x2="402.87" y2="456.30" stroke="#262626" stroke-width="1"/>
<line x1="402.87" y1="310.30" x2="402.87" y2="312.30" stroke="#262626" stroke-width="1"/>
<line x1="433.40" y1="458.30" x2="433.40" y2="456.30" stroke="#262626" stroke-width="1"/>
<line x1="433.40" y1="310.30" x2="433.40" y2="312.30" stroke="#262626" stroke-width="1"/>
<line x1="463.93" y1="458.30" x2="463.93" y2="456.30" stroke="#262626" stroke-width="1"/>
<line x1="463.93" y1="310.30" x2="463.93" y2="312.30" stroke="#262626" stroke-width="1"/>
<line x1="494.47" y1="458.30" x2="494.47" y2="456.30" stroke="#262626" stroke-width="1"/>
<line x1="494.47" y1="310.30" x2="494.47" y2="312.30" stroke="#262626" stroke-width="1"/>
<line x1="525.00" y1="458.30" x2="525.00" y2="456.30" stroke="#262626" stroke-width="1"/>
<line x1="525.00" y1="310.30" x2="525.00" y2="312.30" stroke="#262626" stroke-width="1"/>
<line x1="555.53" y1="458.30" x2="555.53" y2="456.30" stroke="#262626" stroke-width="1"/>
<line x1="555.53" y1="310.30" x2="555.53" y2="312.30" stroke="#262626" stroke-width="1"/>
<line x1="387.60" y1="458.30" x2="389.60" y2="458.30" stroke="#262626" stroke-width="1"/>
<line x1="570.80" y1="458.30" x2="568.80" y2="458.30" stroke="#262626" stroke-width="1"/>
<text x="0" y="0" transform="translate(384.00 462.09) scale(1 1.08)" font-size="9.8" text-anchor="end" fill="#141414" stroke="#141414" stroke-width="0.22">0</text>
<line x1="387.60" y1="428.70" x2="389.60" y2="428.70" stroke="#262626" stroke-width="1"/>
<line x1="570.80" y1="428.70" x2="568.80" y2="428.70" stroke="#262626" stroke-width="1"/>
<text x="0" y="0" transform="translate(384.00 432.49) scale(1 1.08)" font-size="9.8" text-anchor="end" fill="#141414" stroke="#141414" stroke-width="0.22">20</text>
<line x1="387.60" y1="399.10" x2="389.60" y2="399.10" stroke="#262626" stroke-width="1"/>
<line x1="570.80" y1="399.10" x2="568.80" y2="399.10" stroke="#262626" stroke-width="1"/>
<text x="0" y="0" transform="translate(384.00 402.89) scale(1 1.08)" font-size="9.8" text-anchor="end" fill="#141414" stroke="#141414" stroke-width="0.22">40</text>
<line x1="387.60" y1="369.50" x2="389.60" y2="369.50" stroke="#262626" stroke-width="1"/>
<line x1="570.80" y1="369.50" x2="568.80" y2="369.50" stroke="#262626" stroke-width="1"/>
<text x="0" y="0" transform="translate(384.00 373.29) scale(1 1.08)" font-size="9.8" text-anchor="end" fill="#141414" stroke="#141414" stroke-width="0.22">60</text>
<line x1="387.60" y1="339.90" x2="389.60" y2="339.90" stroke="#262626" stroke-width="1"/>
<line x1="570.80" y1="339.90" x2="568.80" y2="339.90" stroke="#262626" stroke-width="1"/>
<text x="0" y="0" transform="translate(384.00 343.69) scale(1 1.08)" font-size="9.8" text-anchor="end" fill="#141414" stroke="#141414" stroke-width="0.22">80</text>
<line x1="387.60" y1="310.30" x2="389.60" y2="310.30" stroke="#262626" stroke-width="1"/>
<line x1="570.80" y1="310.30" x2="568.80" y2="310.30" stroke="#262626" stroke-width="1"/>
<text x="0" y="0" transform="translate(384.00 314.09) scale(1 1.08)" font-size="9.8" text-anchor="end" fill="#141414" stroke="#141414" stroke-width="0.22"> 00</text>
<path d="M0.33 0L0.23 0L0.23 0.49L0.07 0.49L0.07 0.555C0.18 0.565 0.215 0.595 0.235 0.68L0.33 0.68Z" transform="translate(367.65 314.09) scale(9.8 -10.584000000000001)" fill="#141414" stroke="#141414" stroke-width="0.0224"/>
<text x="394.93" y="483.62" font-size="9.604000000000001" text-anchor="start" fill="#141414" stroke="#141414" stroke-width="0.15" transform="rotate(-45 394.93 483.62)">Ideal</text>
<text x="430.86" y="478.22" font-size="9.604000000000001" text-anchor="start" fill="#141414" stroke="#141414" stroke-width="0.15" transform="rotate(-45 430.86 478.22)">ED</text>
<text x="396.57" y="543.05" font-size="9.604000000000001" text-anchor="start" fill="#141414" stroke="#141414" stroke-width="0.15" transform="rotate(-45 396.57 543.05)">scoreSynthFree-DTWoff</text>
<text x="431.99" y="538.16" font-size="9.604000000000001" text-anchor="start" fill="#141414" stroke="#141414" stroke-width="0.15" transform="rotate(-45 431.99 538.16)">scoreSynthFix-DTWon</text>
<text x="433.37" y="567.31" font-size="9.604000000000001" text-anchor="start" fill="#141414" stroke="#141414" stroke-width="0.15" transform="rotate(-45 433.37 567.31)">scoreSynthFree-DTWoff-psycho</text>
<text x="468.79" y="562.43" font-size="9.604000000000001" text-anchor="start" fill="#141414" stroke="#141414" stroke-width="0.15" transform="rotate(-45 468.79 562.43)">scoreSynthFix-DTWon-psycho</text>
<text x="479.20" y="306.70" font-size="10.8" text-anchor="middle" fill="#000000" stroke="#000000" stroke-width="0.12" font-weight="bold">TPS</text>
<text x="363.00" y="384.30" font-size="10.8" text-anchor="middle" fill="#141414" stroke="#141414" stroke-width="0.25" transform="rotate(-90 363.00 384.30)">TPS [dB]</text>
</g>
</svg>
</body></html>
